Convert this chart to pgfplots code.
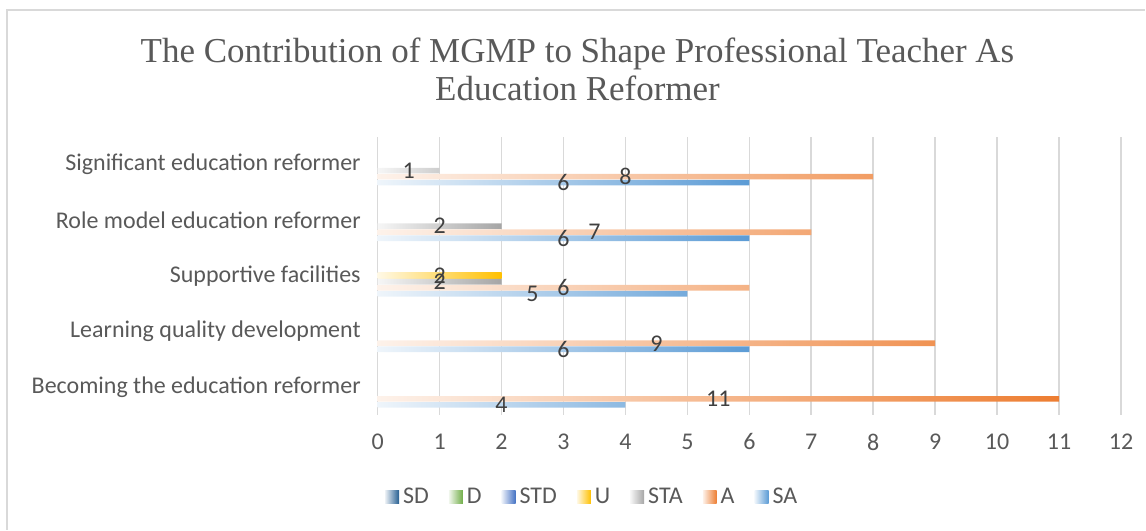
\documentclass[border=0pt]{standalone}
\usepackage{pgfplots}
\pgfplotsset{compat=1.18}
\usepackage{fontspec}
\setmainfont{Carlito}
\newfontfamily\titlefont{Liberation Serif}
\definecolor{cSA}{HTML}{5B9BD5}
\definecolor{cA}{HTML}{ED7D31}
\definecolor{cSTA}{HTML}{A5A5A5}
\definecolor{cU}{HTML}{FFC000}
\definecolor{cSTD}{HTML}{4472C4}
\definecolor{cD}{HTML}{70AD47}
\definecolor{cSD}{HTML}{255E91}
\definecolor{gridc}{HTML}{D9D9D9}
\definecolor{txt}{HTML}{595959}
\definecolor{lbl}{HTML}{404040}
\pgfplotsset{grad/.style={draw=none, left color=#1!10, middle color=#1!88, right color=#1}}
\begin{document}
\begin{tikzpicture}
\path (0,0) rectangle (573pt,265pt);
\draw[gridc, line width=1pt] (3.5pt,0) -- (3.5pt,260pt) -- (573pt,260pt);
\node[font=\titlefont\fontsize{17.5}{19}\selectfont, text=txt, align=center] at (289pt,230.5pt)
  {The Contribution of MGMP to Shape Professional Teacher As\\Education Reformer};
\begin{axis}[
  at={(189pt,57.5pt)}, anchor=south west,
  scale only axis, width=372pt, height=139pt,
  xbar, bar width=2.85pt,
  xmin=0, xmax=12, ymin=-0.5, ymax=4.5,
  xtick={0,...,12},
  ytick={0,1,2,3,4},
  yticklabels={Becoming the education reformer, Learning quality development, Supportive facilities, Role model education reformer, Significant education reformer},
  /pgf/number format/assume math mode=true,
  tick label style={font=\fontsize{12}{14}\selectfont, text=txt},
  yticklabel style={xshift=-5pt},
  xticklabel style={yshift=-6pt},
  major tick length=0pt,
  xmajorgrids, grid style={gridc, line width=0.8pt},
  axis line style={draw=none},
  clip=false,
  legend columns=7,
  legend style={at={(0.29,-0.2986)}, anchor=center, draw=none, fill=none,
    font=\fontsize{12}{14}\selectfont, text=txt,
    /tikz/every even column/.append style={column sep=8pt}},
  legend image code/.code={\path[#1, draw=none] (0pt,-3.2pt) rectangle (7pt,3.6pt);},
  visualization depends on={x \as \rawx},
  nodes near coords,
  every node near coord/.append style={anchor=center, xshift={-\rawx*15.5pt}, text=lbl,
    font=\fontsize{12}{14}\selectfont},
]
\draw[gridc, line width=0.8pt] (axis cs:0,-0.5) -- (axis cs:0,4.5);
\addlegendimage{grad=cSD}
\addlegendentry{SD}
\addlegendimage{grad=cD}
\addlegendentry{D}
\addlegendimage{grad=cSTD}
\addlegendentry{STD}
\addplot[grad=cU, bar shift=0pt] coordinates {(2,2)};
\addlegendentry{U}
\addplot[grad=cSTA, bar shift=-3pt] coordinates {(1,4) (2,3) (2,2)};
\addlegendentry{STA}
\addplot[grad=cA, bar shift=-6pt] coordinates {(8,4) (7,3) (6,2) (9,1) (11,0)};
\addlegendentry{A}
\addplot[grad=cSA, bar shift=-9pt] coordinates {(6,4) (6,3) (5,2) (6,1) (4,0)};
\addlegendentry{SA}
\end{axis}
\end{tikzpicture}
\end{document}
